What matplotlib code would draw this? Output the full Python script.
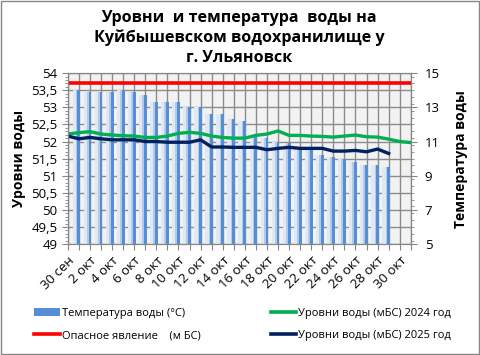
import numpy as np
import matplotlib
matplotlib.use("Agg")
import matplotlib.pyplot as plt
from matplotlib.lines import Line2D
from matplotlib.patches import Patch, Rectangle
from matplotlib.ticker import MultipleLocator, FixedLocator, FuncFormatter

plt.rcParams['font.family'] = ['Open Sans', 'DejaVu Sans']

# categories: 30 сен .. 31 окт
dates = ["30 сен"] + [f"{d} окт" for d in range(1, 32)]

# water temperature, °C (right axis)
temp = [14.1, 14.0, 13.9, 13.9, 13.9, 14.0, 13.9, 13.7, 13.3, 13.3,
        13.3, 13.0, 13.0, 12.6, 12.6, 12.3, 12.2, 11.3, 11.2, 11.0,
        10.9, 10.7, 10.6, 10.2, 10.1, 10.0, 9.8, 9.6, 9.6, 9.5]

# water levels, m BS (left axis)
level_2024 = [52.22, 52.26, 52.29, 52.22, 52.19, 52.17, 52.16, 52.12, 52.12, 52.16,
              52.24, 52.27, 52.24, 52.16, 52.12, 52.10, 52.10, 52.18, 52.22, 52.31,
              52.18, 52.18, 52.16, 52.15, 52.13, 52.16, 52.19, 52.14, 52.13, 52.07,
              52.00, 51.97]
level_2025 = [52.16, 52.08, 52.12, 52.08, 52.05, 52.05, 52.05, 52.00, 52.00, 51.98,
              51.98, 51.98, 52.05, 51.84, 51.84, 51.83, 51.83, 51.83, 51.76, 51.80,
              51.83, 51.80, 51.80, 51.80, 51.72, 51.72, 51.74, 51.70, 51.78, 51.65]
danger = [53.7] * len(dates)

temp_ticks = [5, 7, 9, 11, 13, 15]

fig = plt.figure(figsize=(4.81, 3.55), dpi=100)
ax = fig.add_axes([0.141, 0.3127, 0.713, 0.481])
axT = ax.twinx()
ax.set_zorder(axT.get_zorder() + 1)
ax.patch.set_visible(False)
axT.patch.set_visible(True)
axT.patch.set_facecolor("#f2f2f2")

grid_c = "#8c8c8c"
# grid on the temperature axes so that it stays behind the bars
for v in np.arange(5, 15.01, 1):
    axT.axhline(v, color=grid_c, lw=1, zorder=0)
for i in range(len(dates)):
    axT.axvline(i, color=grid_c, lw=1, zorder=0)

# gradient-looking bars: soft haze to the left and a dark strip
x_t = np.arange(len(temp))
axT.bar(x_t - 0.3, temp, width=0.55, color="#dfe8f3", zorder=1, linewidth=0)
axT.bar(x_t - 0.15, temp, width=0.25, color="#b3cae8", zorder=1, linewidth=0)
axT.bar(x_t, temp, width=0.26, color="#558ed5", zorder=2, linewidth=0)

ax.plot(np.arange(len(danger)), danger, color="#ff0000", lw=2.6, solid_capstyle="butt")
ax.plot(np.arange(len(level_2024)), level_2024, color="#00b050", lw=2.4)
ax.plot(np.arange(len(level_2025)), level_2025, color="#002060", lw=2.4)

ax.set_xlim(0, len(dates) - 1)
ax.set_ylim(49, 54)
axT.set_ylim(5, 15)

ax.yaxis.set_major_locator(MultipleLocator(0.5))
ax.yaxis.set_minor_locator(MultipleLocator(0.1))
ax.yaxis.set_major_formatter(FuncFormatter(lambda v, p: f"{v:g}".replace(".", ",")))
axT.yaxis.set_major_locator(FixedLocator(temp_ticks))
axT.yaxis.set_minor_locator(MultipleLocator(0.4))

ax.set_xticks(range(len(dates)))
ax.set_xticklabels([d if i % 2 == 0 and i < 31 else "" for i, d in enumerate(dates)],
                   rotation=45, ha="right", va="top", rotation_mode="anchor",
                   fontsize=9.5)
for a in (ax, axT):
    for s in a.spines.values():
        s.set_color("#868686")
    a.tick_params(axis="both", which="both", color="#868686", labelsize=9.5, direction="out")
    a.tick_params(which="major", length=4)
    a.tick_params(which="minor", length=2.5)
ax.tick_params(axis="x", pad=3)
axT.tick_params(axis="y", pad=6)

ax.set_ylabel("Уровни воды", fontsize=10, fontweight="bold", labelpad=4)
axT.set_ylabel("Температура воды", fontsize=10, fontweight="bold", labelpad=10)

fig.text(0.497, 0.893, "Уровни  и температура  воды на\nКуйбышевском водохранилище у\nг. Ульяновск",
         ha="center", va="center", fontsize=11.6, fontweight="bold", linespacing=1.3)

handles = [Patch(facecolor="#558ed5"),
           Line2D([], [], color="#ff0000", lw=2.6),
           Line2D([], [], color="#00b050", lw=2.6),
           Line2D([], [], color="#002060", lw=2.6)]
labels = ["Температура воды (°C)", "Опасное явление    (м БС)",
          "Уровни воды (мБС) 2024 год", "Уровни воды (мБС) 2025 год"]
fig.legend(handles, labels, ncol=2, loc="center left", bbox_to_anchor=(0.05, 0.086),
           frameon=False, fontsize=8, handlelength=2.3, handletextpad=0.2,
           columnspacing=6.3, labelspacing=1.0)

fig.patches.append(Rectangle((0.002, 0.004), 0.994, 0.993, transform=fig.transFigure,
                             fill=False, edgecolor="#868686", lw=1))

fig.savefig("out.png", dpi=100)
